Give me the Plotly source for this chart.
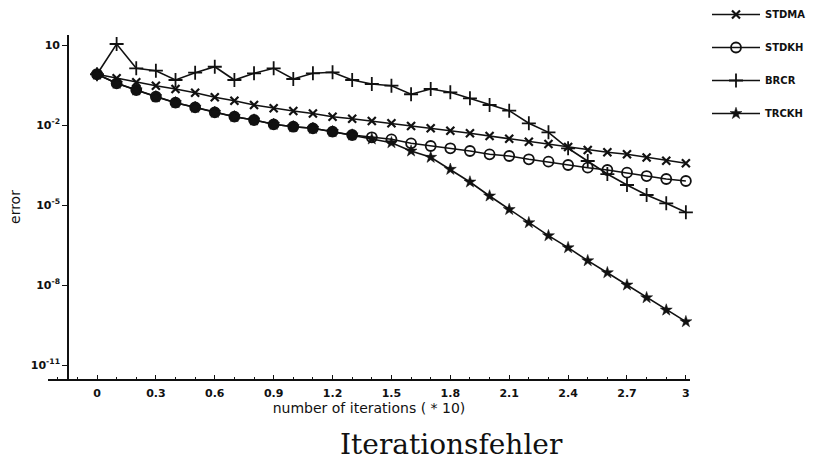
import plotly.graph_objects as go

iterations = [0.0, 0.1, 0.2, 0.3, 0.4, 0.5, 0.6, 0.7, 0.8, 0.9, 1.0,
              1.1, 1.2, 1.3, 1.4, 1.5, 1.6, 1.7, 1.8, 1.9, 2.0,
              2.1, 2.2, 2.3, 2.4, 2.5, 2.6, 2.7, 2.8, 2.9, 3.0]

stdma = [0.80, 0.564, 0.399, 0.298, 0.224, 0.163, 0.109, 0.0815, 0.0562, 0.0423, 0.0335,
         0.027, 0.0205, 0.0172, 0.0141, 0.0116, 0.00917, 0.00752, 0.00611, 0.00489, 0.00387,
         0.00306, 0.00234, 0.00194, 0.0015, 0.00116, 9.46e-4, 7.96e-4, 6.04e-4, 4.58e-4, 3.66e-4]

stdkh = [0.80, 0.366, 0.205, 0.115, 0.0686, 0.0461, 0.0299, 0.0205, 0.0154, 0.0106, 0.00863,
         0.00752, 0.00561, 0.00422, 0.00346, 0.00291, 0.00206, 0.00163, 0.00134, 0.00106, 7.96e-4,
         6.88e-4, 5.18e-4, 4.21e-4, 3.16e-4, 2.51e-4, 2.05e-4, 1.63e-4, 1.22e-4, 9.44e-5, 7.94e-5]

brcr = [0.80, 10.9, 1.34, 1.09, 0.487, 0.914, 1.53, 0.487, 0.869, 1.34, 0.531,
        0.869, 0.946, 0.487, 0.345, 0.298, 0.142, 0.224, 0.168, 0.100, 0.0562,
        0.0344, 0.0116, 0.00532, 0.00134, 4.47e-4, 1.45e-4, 5.62e-5, 2.37e-5, 1.16e-5, 5.32e-6]

trckh = [0.80, 0.366, 0.205, 0.115, 0.0686, 0.0461, 0.0299, 0.0205, 0.0154, 0.0106, 0.00863,
         0.00752, 0.00561, 0.00422, 0.00299, 0.00217, 0.00106, 6.15e-4, 2.18e-4, 7.29e-5, 2.18e-5,
         6.78e-6, 2.17e-6, 7.06e-7, 2.51e-7, 8.15e-8, 2.89e-8, 1.0e-8, 3.34e-9, 1.15e-9, 4.21e-10]

x_tickvals = [0, 0.3, 0.6, 0.9, 1.2, 1.5, 1.8, 2.1, 2.4, 2.7, 3.0]
x_ticktext = ["0", "0.3", "0.6", "0.9", "1.2", "1.5", "1.8", "2.1", "2.4", "2.7", "3"]
y_tickvals = [10, 1e-2, 1e-5, 1e-8, 1e-11]
y_ticktext = ["10", "10<sup>-2</sup>", "10<sup>-5</sup>", "10<sup>-8</sup>", "10<sup>-11</sup>"]

BLACK = "#111111"
SANS = "DejaVu Sans, Liberation Sans, sans-serif"
W, H = 836, 469
L, R, T, B = 48, 146, 35, 90

# STDKH circles look filled where TRCKH stars sit on top of them
stdkh_symbols = ["circle" if a == b else "circle-open" for a, b in zip(stdkh, trckh)]

fig = go.Figure()
fig.add_trace(go.Scatter(
    x=iterations, y=stdma, name="<b>STDMA</b>", mode="lines+markers", legendgroup="a",
    line=dict(color=BLACK, width=1.6),
    marker=dict(symbol="x-thin-open", size=8, color=BLACK, line=dict(color=BLACK, width=2.2)),
    cliponaxis=False))
# drawn from the last point backwards so the legend shows the open circle
fig.add_trace(go.Scatter(
    x=iterations[::-1], y=stdkh[::-1], name="<b>STDKH</b>", mode="lines+markers", legendgroup="b",
    line=dict(color=BLACK, width=1.6),
    marker=dict(symbol=stdkh_symbols[::-1], size=10, color=BLACK, line=dict(color=BLACK, width=1.8)),
    cliponaxis=False))
fig.add_trace(go.Scatter(
    x=iterations, y=brcr, name="<b>BRCR</b>", mode="lines+markers", legendgroup="c",
    line=dict(color=BLACK, width=1.6),
    marker=dict(symbol="cross-thin-open", size=10, color=BLACK, line=dict(color=BLACK, width=1.8)),
    cliponaxis=False))
fig.add_trace(go.Scatter(
    x=iterations, y=trckh, name="<b>TRCKH</b>", mode="lines+markers", legendgroup="d",
    line=dict(color=BLACK, width=1.6),
    marker=dict(symbol="star", size=9, color=BLACK, line=dict(color=BLACK, width=0.5)),
    cliponaxis=False))

plot_w = W - L - R
plot_h = H - T - B
y_axis_px = 68
fig.update_layout(
    width=W, height=H,
    margin=dict(l=L, r=R, t=T, b=B, autoexpand=False),
    paper_bgcolor="white", plot_bgcolor="white",
    font=dict(family=SANS, color=BLACK, size=11),
    showlegend=True,
    legend=dict(xref="container", yref="container", x=707 / W, xanchor="left",
                y=1.0, yanchor="top",
                font=dict(size=10, color=BLACK, family=SANS), tracegroupgap=14,
                bgcolor="rgba(0,0,0,0)", itemwidth=48),
    xaxis=dict(range=[-0.2496, 3.021], showgrid=False, zeroline=False, automargin=False,
               showline=True, linecolor=BLACK, linewidth=1.6,
               tickmode="array", tickvals=x_tickvals, ticktext=x_ticktext,
               ticks="inside", ticklen=4, tickwidth=1.4, tickcolor=BLACK,
               ticklabelstandoff=3,
               tickfont=dict(size=11, color=BLACK, weight="bold"),
               minor=dict(ticks="inside", ticklen=2, dtick=0.1, tickcolor=BLACK, tickwidth=1),
               title=dict(text="number of iterations ( * 10)", standoff=1,
                          font=dict(size=14, color=BLACK, family=SANS))),
    yaxis=dict(type="log", range=[-11.525, 1.375], showgrid=False, zeroline=False, automargin=False,
               anchor="free", position=(y_axis_px - L) / plot_w,
               showline=True, linecolor=BLACK, linewidth=1.6,
               tickmode="array", tickvals=y_tickvals, ticktext=y_ticktext,
               ticks="outside", ticklen=5, tickwidth=1.4, tickcolor=BLACK,
               tickfont=dict(size=11, color=BLACK, weight="bold"),
               title=dict(text="error", standoff=6, font=dict(size=14, color=BLACK, family=SANS))),
)

fig.add_annotation(
    text="Iterationsfehler", xref="paper", yref="paper",
    x=(451 - L) / plot_w, y=(379 - 445) / plot_h, xanchor="center", yanchor="middle",
    showarrow=False, font=dict(family="DejaVu Serif, Liberation Serif, serif", size=28, color=BLACK))

fig.write_html("out.html", config={"displayModeBar": False},
               post_script="document.body.style.margin='0';document.body.style.overflow='hidden';")
